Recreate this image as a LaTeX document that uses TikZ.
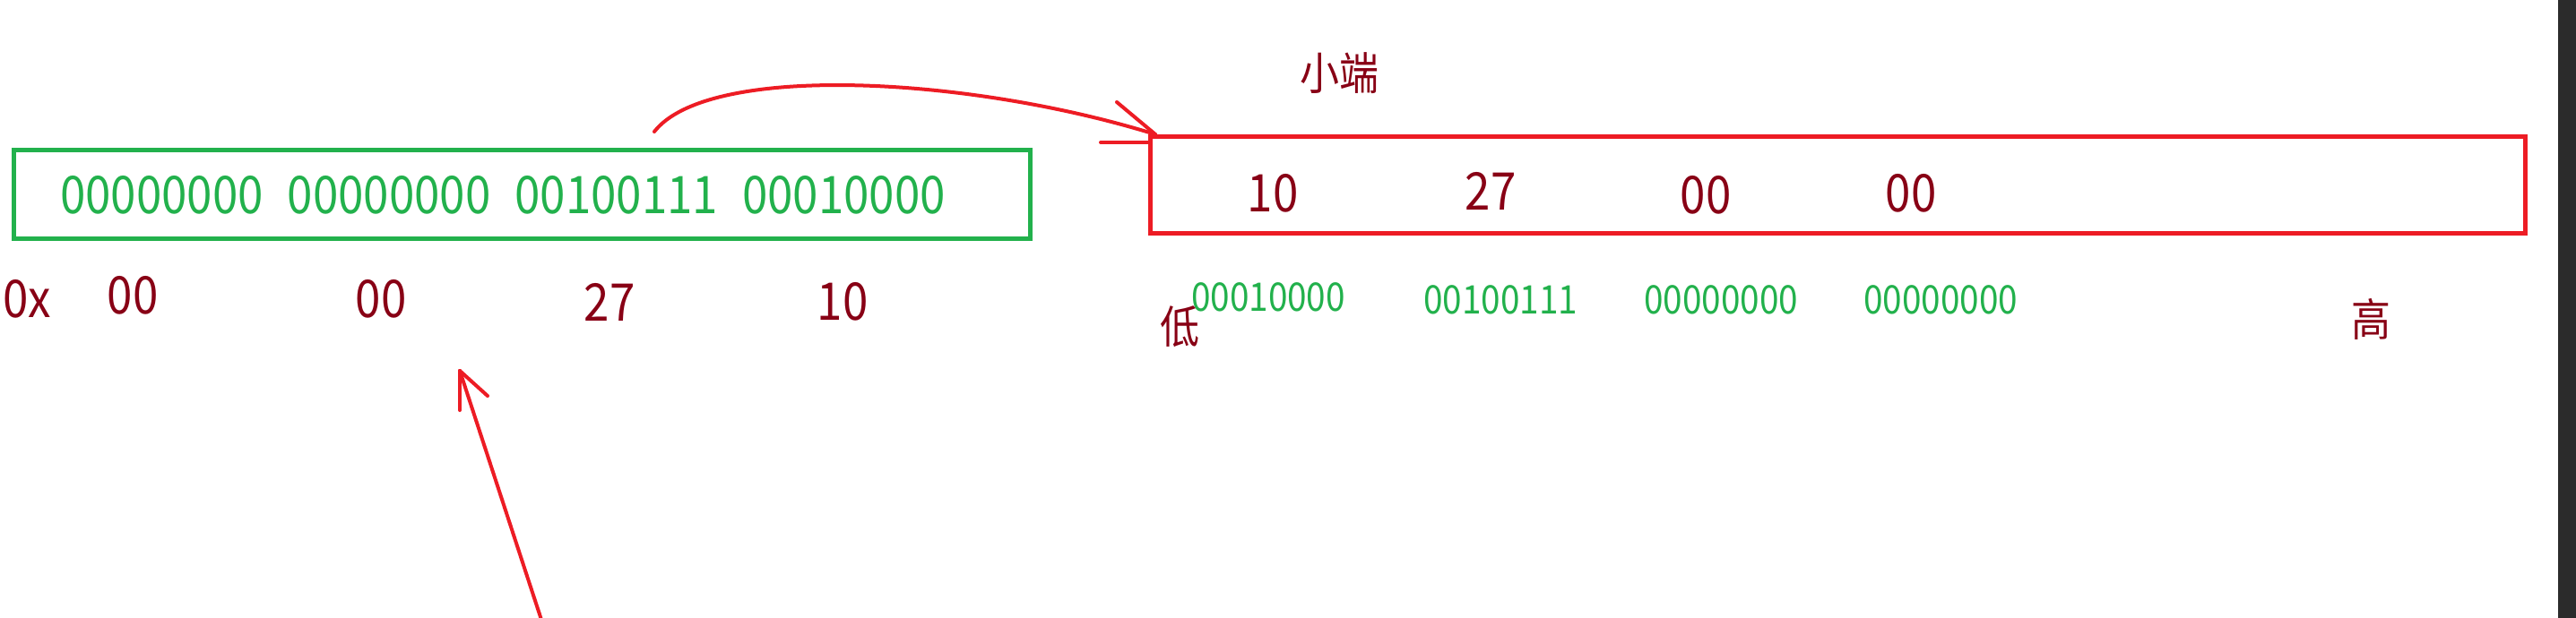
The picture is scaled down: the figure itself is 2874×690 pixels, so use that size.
\documentclass[tikz,border=0pt]{standalone}
\usepackage{fontspec}
\setmainfont{Noto Sans CJK SC}[FakeStretch=0.88]
\usetikzlibrary{calc}
\definecolor{pred}{HTML}{ED1C24}
\definecolor{pgreen}{HTML}{22B14C}
\definecolor{pdark}{HTML}{880015}
\definecolor{stripc}{HTML}{2B2B2B}
\tikzset{
  boxg/.style={draw=pgreen, line width=2.5pt, inner sep=0pt, minimum width=567pt, minimum height=49.5pt},
  boxr/.style={draw=pred, line width=2.5pt, inner sep=0pt, minimum width=767pt, minimum height=54pt},
  bigg/.style={text=pgreen, inner sep=0pt, font=\fontsize{29}{30}\selectfont},
  smallg/.style={text=pgreen, inner sep=0pt, font=\fontsize{22}{23}\selectfont},
  darklbl/.style={text=pdark, inner sep=0pt, font=\fontsize{29}{30}\selectfont},
  cjklbl/.style={text=pdark, inner sep=0pt, font=\fontsize{25}{26}\selectfont},
  redstroke/.style={draw=pred, line width=2pt, line cap=round, line join=round},
}
\begin{document}
\begin{tikzpicture}[x=0.5pt,y=-0.5pt]
\useasboundingbox (0,0) rectangle (2874,690);
\fill[white] (0,0) rectangle (2874,690);
\fill[stripc] (2854,0) rectangle (2874,690);

% boxes
\node[boxg] (gb) at (582,216.5) {};
\node[boxr] (rb) at (2050,206) {};

% green box text
\node[bigg] (gtext) at (561,218) {00000000\hspace{13.5pt}00000000\hspace{13.5pt}00100111\hspace{13.5pt}00010000};

% labels below green box
\node[darklbl] (l0x) at (30,334) {0x};
\node[darklbl] (l1) at (148,330) {00};
\node[darklbl] (l2) at (425,334) {00};
\node[darklbl] (l3) at (680,337) {27};
\node[darklbl] (l4) at (940,337) {10};

% red box contents
\node[darklbl] (r1) at (1420,216) {10};
\node[darklbl] (r2) at (1663,213) {27};
\node[darklbl] (r3) at (1903,218) {00};
\node[darklbl] (r4) at (2132,216) {00};

% green bytes below red box
\node[smallg] (s1) at (1415,332) {00010000};
\node[smallg] (s2) at (1674,335) {00100111};
\node[smallg] (s3) at (1920,335) {00000000};
\node[smallg] (s4) at (2165,335) {00000000};

% CJK labels
\node[cjklbl] (low) at (1316,365) {低};
\node[cjklbl] (high) at (2645,356) {高};
\node[cjklbl] (title) at (1494,82) {小端};

% curved arrow
\coordinate (cs) at (730,147);
\coordinate (ce) at (1289,150);
\coordinate (cw1) at (1246,114);
\coordinate (cw2a) at (1228,159);
\coordinate (cw2b) at (1283,159);
\draw[redstroke] (cs) .. controls (790,70) and (1080,85) .. (ce);
\draw[redstroke] (cw1) -- (ce);
\draw[redstroke] (cw2a) -- (cw2b);

% straight arrow from below
\coordinate (at) at (605,695);
\coordinate (ah) at (513,414);
\coordinate (aw1) at (513,458);
\coordinate (aw2) at (544,442);
\draw[redstroke] (at) -- (ah);
\draw[redstroke] (ah) -- (aw1);
\draw[redstroke] (ah) -- (aw2);
\end{tikzpicture}
\end{document}
